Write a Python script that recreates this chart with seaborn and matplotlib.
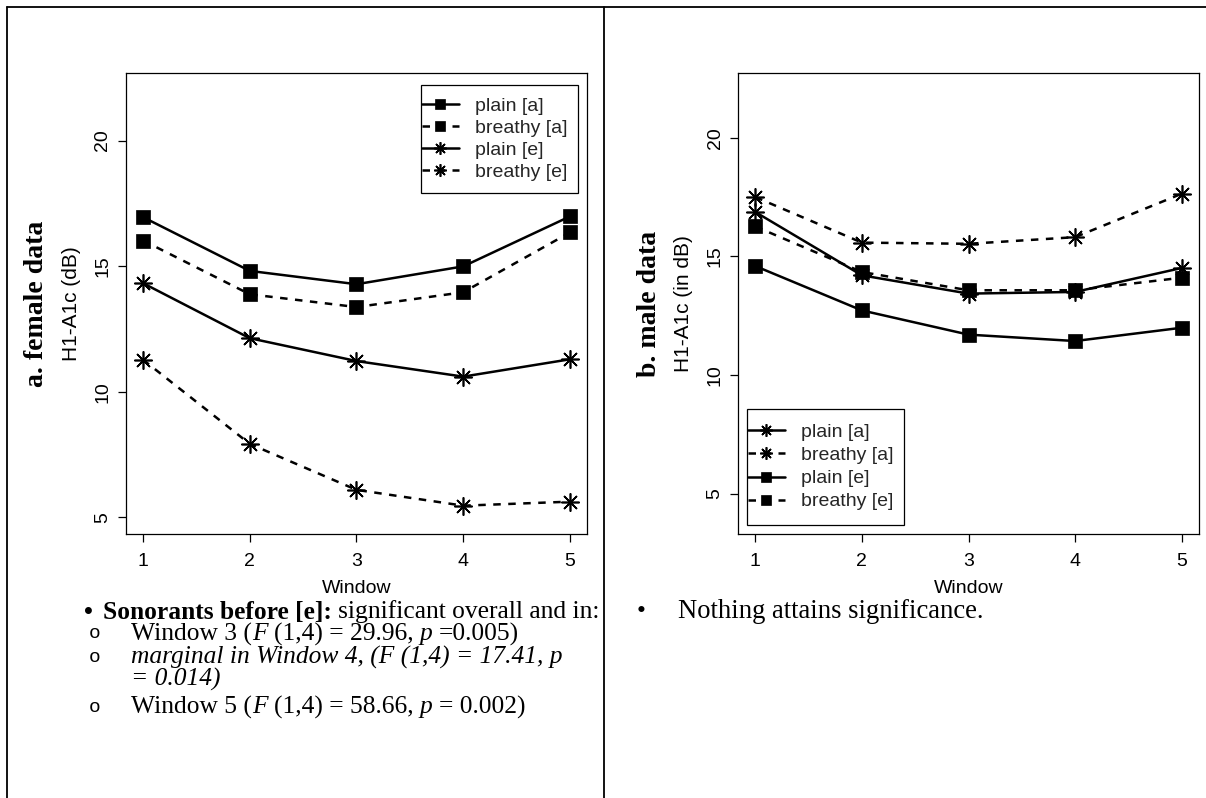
import matplotlib
matplotlib.use("Agg")
import matplotlib.pyplot as plt
import seaborn as sns
from matplotlib.lines import Line2D
from matplotlib.patches import Rectangle

# x categories
windows = [1, 2, 3, 4, 5]

# a. female data (H1-A1c, dB)
f_plain_a = [16.95, 14.81, 14.28, 14.99, 16.98]
f_breathy_a = [16.02, 13.88, 13.37, 13.96, 16.34]
f_plain_e = [14.32, 12.13, 11.22, 10.60, 11.29]
f_breathy_e = [11.27, 7.92, 6.09, 5.46, 5.62]

# b. male data (H1-A1c, dB)
m_plain_a = [16.87, 14.20, 13.43, 13.50, 14.51]
m_breathy_a = [17.50, 15.58, 15.53, 15.81, 17.64]
m_plain_e = [14.59, 12.72, 11.70, 11.43, 11.99]
m_breathy_e = [16.26, 14.34, 13.57, 13.57, 14.10]

series_labels = ["plain [a]", "breathy [a]", "plain [e]", "breathy [e]"]
y_ticks = [5, 10, 15, 20]

sns.set_theme(style="white")
plt.rcParams["font.family"] = ["Liberation Sans", "DejaVu Sans"]

W, H = 1206, 798
fig = plt.figure(figsize=(W / 100, H / 100), dpi=100)
fig.patch.set_facecolor("white")


def fx(x):
    return x / W


def fy(y):
    return 1 - y / H


SOLID = "-"
DASH = (0, (3, 3))
SQUARE = "s"
STAR = (8, 2, 0)


def draw_series(ax, vals, ls, mk):
    if mk == SQUARE:
        sns.lineplot(x=windows, y=vals, ax=ax, color="black", linestyle=ls, linewidth=1.8,
                     marker=mk, markersize=9.5, markeredgecolor="black", markerfacecolor="black",
                     markeredgewidth=0.5)
    else:
        sns.lineplot(x=windows, y=vals, ax=ax, color="black", linestyle=ls, linewidth=1.8,
                     marker=mk, markersize=13, markeredgecolor="black", markeredgewidth=1.2)


def style_axes(ax, ylim, ylabel, title, title_x, leg_styles, leg_box, leg_space):
    ax.set_xlim(0.84, 5.16)
    ax.set_ylim(*ylim)
    ax.set_xticks(windows)
    ax.set_yticks(y_ticks)
    ax.set_facecolor("white")
    for sp in ax.spines.values():
        sp.set_color("black")
        sp.set_linewidth(0.9)
        sp.set_visible(True)
    ax.tick_params(axis="both", direction="out", length=5.5, width=0.9, color="black",
                   labelsize=14, labelcolor="black", bottom=True, left=True)
    ax.tick_params(axis="x", pad=8)
    ax.tick_params(axis="y", labelrotation=90, pad=5)
    for lab in ax.get_yticklabels():
        lab.set_va("center")
    ax.set_xlabel("Window", fontsize=14, labelpad=7, color="black")
    ax.set_ylabel(ylabel, fontsize=15, color="black")
    ax.yaxis.set_label_coords(-45 / 461, 0.5)
    fig.text(title_x, 0.5 * (fy(73.3) + fy(534.3)), title, rotation=90, ha="center", va="center",
             family="Liberation Serif", weight="bold", fontsize=20, color="black")

    # R style legend: thin square box, entries drawn without frame
    x0, y0, x1, y1 = leg_box
    fig.add_artist(Rectangle((fx(x0), fy(y1)), fx(x1) - fx(x0), fy(y0) - fy(y1),
                             transform=fig.transFigure, facecolor="white", edgecolor="black",
                             linewidth=0.9, zorder=5))
    handles = []
    for ls, mk in leg_styles:
        handles.append(Line2D([], [], color="black", linestyle=ls, linewidth=1.8, marker=mk,
                              markersize=7 if mk == SQUARE else 9,
                              markeredgewidth=1.2 if mk == STAR else 0.5,
                              markeredgecolor="black", markerfacecolor="black"))
    leg = fig.legend(handles, series_labels, loc="center left",
                     bbox_to_anchor=(fx(x0 + 1), 0.5 * (fy(y0) + fy(y1))), borderaxespad=0,
                     fontsize=14, frameon=False, handlelength=1.9, handletextpad=0.85,
                     labelspacing=leg_space, borderpad=0.0, numpoints=1)
    leg.set_zorder(6)


# panel a
ax1 = fig.add_axes([fx(126), fy(534.3), fx(587) - fx(126), fy(73.3) - fy(534.3)])
draw_series(ax1, f_plain_a, SOLID, SQUARE)
draw_series(ax1, f_breathy_a, DASH, SQUARE)
draw_series(ax1, f_plain_e, SOLID, STAR)
draw_series(ax1, f_breathy_e, DASH, STAR)
style_axes(ax1, (4.32, 22.68), "H1-A1c (dB)", "a. female data", fx(37),
           [(SOLID, SQUARE), (DASH, SQUARE), (SOLID, STAR), (DASH, STAR)],
           (421, 85, 578, 193), 0.22)

# panel b
ax2 = fig.add_axes([fx(738.3), fy(534.3), fx(1198.7) - fx(738.3), fy(73.3) - fy(534.3)])
draw_series(ax2, m_plain_a, SOLID, STAR)
draw_series(ax2, m_breathy_a, DASH, STAR)
draw_series(ax2, m_plain_e, SOLID, SQUARE)
draw_series(ax2, m_breathy_e, DASH, SQUARE)
style_axes(ax2, (3.28, 22.72), "H1-A1c (in dB)", "b. male data", fx(649),
           [(SOLID, STAR), (DASH, STAR), (SOLID, SQUARE), (DASH, SQUARE)],
           (747, 409, 904, 525), 0.28)

# table lines
for (x0, y0, x1, y1) in [(7, 7, W, 7), (7, 7, 7, H), (604, 7, 604, H)]:
    fig.add_artist(Line2D([fx(x0), fx(x1)], [fy(y0), fy(y1)], transform=fig.transFigure,
                          color="black", linewidth=1.3))

# bullet text under the plots
TXT = 18.4
renderer = fig.canvas.get_renderer()


def draw_runs(x, y, runs, size=TXT):
    # pieces of one line drawn left to right, spaces handled by hand
    sp = size * 0.25 * 100 / 72
    for s, style, weight in runs:
        lead = len(s) - len(s.lstrip(" "))
        trail = len(s) - len(s.rstrip(" "))
        x += lead * sp
        core = s.strip(" ")
        t = fig.text(fx(x), fy(y), core, fontsize=size, family="Liberation Serif", style=style,
                     weight=weight, va="center", ha="left", color="black")
        x += t.get_window_extent(renderer).width + trail * sp


fig.text(fx(88), fy(612), "\u2022", fontsize=TXT, family="Liberation Serif", weight="bold",
         va="center", ha="center", color="black")
draw_runs(103, 612, [("Sonorants before [e]:", "normal", "bold"),
                     (" significant overall and in:", "normal", "normal")])

for yy in [634, 657, 707]:
    fig.text(fx(95), fy(yy), "o", fontsize=14, family="Liberation Mono", va="center", ha="center",
             color="black")
draw_runs(131, 634, [("Window 3 (", "normal", "normal"), ("F", "italic", "normal"),
                     (" (1,4) = 29.96, ", "normal", "normal"), ("p", "italic", "normal"),
                     (" =0.005)", "normal", "normal")])
draw_runs(131, 657, [("marginal in Window 4, (F (1,4) = 17.41, p", "italic", "normal")])
draw_runs(131, 679, [("= 0.014)", "italic", "normal")])
draw_runs(131, 707, [("Window 5 (", "normal", "normal"), ("F", "italic", "normal"),
                     (" (1,4) = 58.66, ", "normal", "normal"), ("p", "italic", "normal"),
                     (" = 0.002)", "normal", "normal")])

fig.text(fx(641), fy(612), "\u2022", fontsize=TXT, family="Liberation Serif", va="center",
         ha="center", color="black")
draw_runs(678, 612, [("Nothing attains significance.", "normal", "normal")], size=19.2)

fig.savefig("out.png", dpi=100, facecolor="white")
